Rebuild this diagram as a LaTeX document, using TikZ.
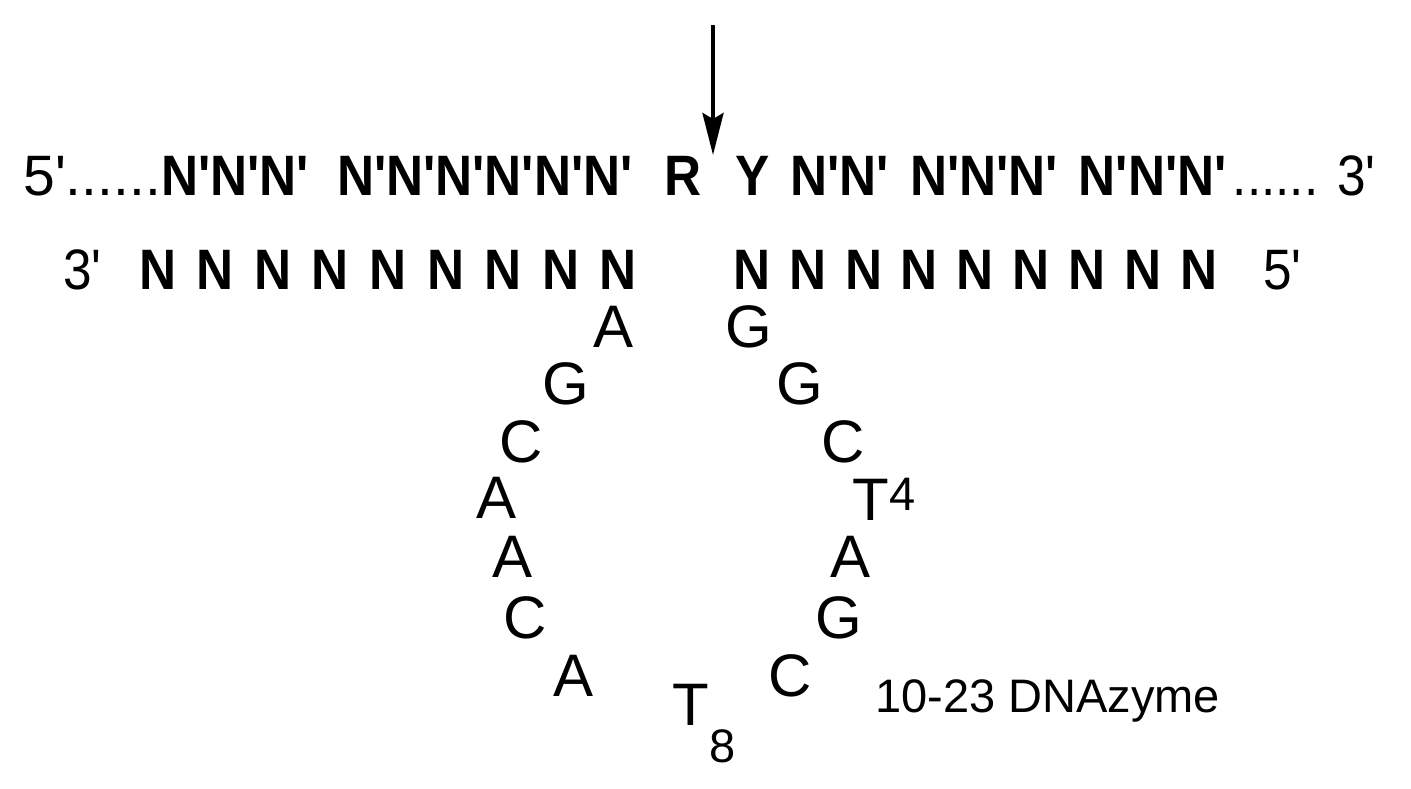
\documentclass[tikz,border=0pt]{standalone}
\usepackage{fontspec}
\setmainfont{Liberation Sans}[Ligatures=TeXOff]
\newfontfamily\strandfont{Liberation Sans}[FakeStretch=0.9,Ligatures=TeXOff]
\usetikzlibrary{arrows.meta}

\begin{document}
\begin{tikzpicture}[x=0.5pt,y=-0.5pt,
    strand/.style={font=\strandfont\fontsize{28.5}{34}\selectfont,inner sep=0pt},
    tail/.style={font=\fontsize{28.5}{34}\selectfont,inner sep=0pt},
    nt/.style={font=\fontsize{30}{36}\selectfont,inner sep=0pt},
    note/.style={font=\fontsize{23.5}{28}\selectfont,inner sep=0pt}]
  \useasboundingbox (0,0) rectangle (1411,788);
  % substrate
  \draw
    (23,195) node[tail,anchor=base west] (sub5){5'......}
    (161,195) node[strand,anchor=base west] (subl){\bfseries N'N'N'\hspace{14pt}N'N'N'N'N'N'\hspace{16pt}R}
    (735,195) node[strand,anchor=base west] (subr){\bfseries\spaceskip=10.5pt\relax Y N'N' N'N'N' N'N'N'}
    (1376,195) node[strand,anchor=base east] (sub3){...... 3'};
  % binding arms
  \draw
    (63,289) node[strand,anchor=base west] (end3){3'}
    (139,289) node[strand,anchor=base west] (arml){\bfseries\spaceskip=10.25pt\relax N N N N N N N N N}
    (733,289) node[strand,anchor=base west] (armr){\bfseries\spaceskip=9.4pt\relax N N N N N N N N N}
    (1263,289) node[strand,anchor=base west] (end5){5'};
  % catalytic core
  \draw
    (749,327) node[nt] (c1){G}
    (800,384) node[nt] (c2){G}
    (843,442) node[nt] (c3){C}
    (852,520) node[nt,anchor=base west] (c4){T\raisebox{4.7pt}{\fontsize{23.5}{28}\selectfont 4}}
    (850,557) node[nt] (c5){A}
    (839,618) node[nt] (c6){G}
    (790,676) node[nt] (c7){C}
    (672,725) node[nt,anchor=base west] (c8){T\raisebox{-18.5pt}{\fontsize{23.5}{28}\selectfont 8}}
    (573,676) node[nt] (c9){A}
    (525,618) node[nt] (c10){C}
    (513,557) node[nt] (c11){A}
    (497,498) node[nt] (c12){A}
    (521,442) node[nt] (c13){C}
    (566,384) node[nt] (c14){G}
    (613,327) node[nt] (c15){A};
  \draw (875,712) node[note,anchor=base west] (name){10-23 DNAzyme};
  % cleavage site
  \coordinate (top) at (713,25);
  \coordinate (site) at (713,155);
  \draw[line width=2pt,-{Stealth[length=21pt,width=10.5pt,inset=3pt]}] (top) -- (site);
\end{tikzpicture}
\end{document}
